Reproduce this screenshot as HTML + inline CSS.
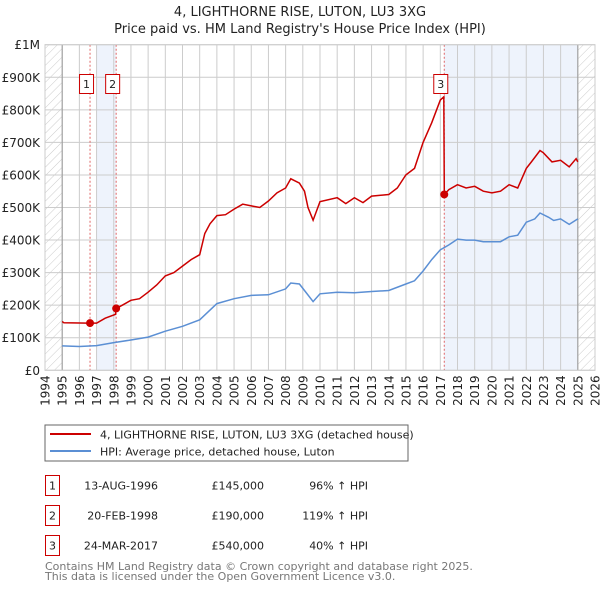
<!DOCTYPE html>
<html><head><meta charset="utf-8"><style>
body{margin:0;background:#fff;font-family:"DejaVu Sans","Liberation Sans",sans-serif;}
svg text{font-family:"DejaVu Sans","Liberation Sans",sans-serif;}
</style></head><body>
<svg id="c" width="600" height="590" xmlns="http://www.w3.org/2000/svg">
<defs><pattern id="hatch" width="6" height="6" patternUnits="userSpaceOnUse" patternTransform="rotate(45)"><line x1="0" y1="0" x2="0" y2="6" stroke="#ccc" stroke-width="1"/></pattern></defs>
<text x="300" y="16" text-anchor="middle" font-size="13" fill="#222">4, LIGHTHORNE RISE, LUTON, LU3 3XG</text>
<text x="300" y="33" text-anchor="middle" font-size="13" fill="#222">Price paid vs. HM Land Registry's House Price Index (HPI)</text>
<g id="plot"></g>
<g>
<rect x="45" y="425" width="363" height="36" fill="#fff" stroke="#666"/>
<line x1="50" y1="434" x2="91" y2="434" stroke="#cc0000" stroke-width="2"/>
<text x="100" y="438.5" font-size="11" fill="#222">4, LIGHTHORNE RISE, LUTON, LU3 3XG (detached house)</text>
<line x1="50" y1="451" x2="91" y2="451" stroke="#5b8fd4" stroke-width="2"/>
<text x="100" y="455.5" font-size="11" fill="#222">HPI: Average price, detached house, Luton</text>
</g>
<g id="tbl" font-size="11" fill="#222"></g>
<text x="45" y="570" font-size="11" fill="#777">Contains HM Land Registry data © Crown copyright and database right 2025.</text>
<text x="45" y="580" font-size="11" fill="#777">This data is licensed under the Open Government Licence v3.0.</text>
</svg>
<script>
const yearTicks=[1994,1995,1996,1997,1998,1999,2000,2001,2002,2003,2004,2005,2006,2007,2008,2009,2010,2011,2012,2013,2014,2015,2016,2017,2018,2019,2020,2021,2022,2023,2024,2025,2026];
const valueTicks=[0,100,200,300,400,500,600,700,800,900,1000];
const valueLabels=["£0","£100K","£200K","£300K","£400K","£500K","£600K","£700K","£800K","£900K","£1M"];
const redDates=[1995.0,1995.1,1996.5,1996.62,1997.0,1997.5,1998.1,1998.14,1998.5,1999,1999.5,2000,2000.5,2001,2001.5,2002,2002.5,2003,2003.3,2003.6,2004,2004.5,2005,2005.5,2006,2006.5,2007,2007.5,2008,2008.3,2008.8,2009.1,2009.3,2009.6,2010,2011,2011.5,2012,2012.5,2013,2014,2014.5,2015,2015.5,2016,2016.5,2017.0,2017.2,2017.23,2017.5,2018,2018.5,2019,2019.5,2020,2020.5,2021,2021.5,2022,2022.3,2022.8,2023,2023.5,2024,2024.5,2024.9,2025];
const redValues=[150,146,145,145,145,160,172,190,200,215,220,240,262,290,300,320,340,355,420,450,475,478,495,510,505,500,520,545,560,588,575,550,500,461,518,530,512,530,515,535,540,560,600,620,700,760,830,840,540,555,570,560,565,550,545,550,570,560,620,640,675,668,640,645,625,650,640];
const hpiDates=[1995,1996,1997,1998,1999,2000,2001,2002,2003,2003.5,2004,2005,2006,2007,2008,2008.3,2008.8,2009.1,2009.6,2010,2011,2012,2013,2014,2015,2015.5,2016,2016.5,2017,2017.5,2018,2018.5,2019,2019.5,2020,2020.5,2021,2021.5,2022,2022.5,2022.8,2023.3,2023.6,2024,2024.5,2025];
const hpiValues=[75,73,76,85,93,102,120,135,155,180,205,220,230,232,250,268,265,245,211,235,240,238,242,245,265,275,305,340,370,385,403,400,400,395,395,395,410,415,455,465,483,470,460,465,448,465];
const saleDates=[1996.62,1998.14,2017.23];
const saleValues=[145,190,540];
const saleLabels=["1","2","3"];
const saleDateText=["13-AUG-1996","20-FEB-1998","24-MAR-2017"];
const salePriceText=["£145,000","£190,000","£540,000"];
const saleHpiText=["96% ↑ HPI","119% ↑ HPI","40% ↑ HPI"];

const X0=45,X1=595,Y0=370.3,Y1=44.7;
const x=d=>X0+(d-1994)/(2026-1994)*(X1-X0);
const y=v=>Y0-v/1000*(Y0-Y1);
const NS="http://www.w3.org/2000/svg";
function mk(tag,attrs,parent){const e=document.createElementNS(NS,tag);for(const k in attrs)e.setAttribute(k,attrs[k]);parent.appendChild(e);return e;}
const g=document.getElementById('plot');
let r;
r=mk('rect',{x:x(1994),y:Y1,width:x(1995)-x(1994),height:Y0-Y1,fill:'url(#hatch)'},g);


r=mk('rect',{x:x(2025),y:Y1,width:x(2026)-x(2025),height:Y0-Y1,fill:'url(#hatch)'},g);


r=mk('rect',{x:x(1997),y:Y1,width:x(saleDates[1])-x(1997),height:Y0-Y1,fill:'#eef3fc'},g);


r=mk('rect',{x:x(saleDates[2]),y:Y1,width:x(2025)-x(saleDates[2]),height:Y0-Y1,fill:'#eef3fc'},g);


yearTicks.forEach(t=>{
 const l=mk('line',{x1:x(t),x2:x(t),y1:Y1,y2:Y0,stroke:'#ccc'},g);
 
 
 const tx=mk('text',{x:0,y:0,'font-size':12,fill:'#222','text-anchor':'end',transform:`translate(${x(t)+4.5},${Y0+5}) rotate(-90)`},g);
 tx.textContent=t;
 
 
});
valueTicks.forEach((v,i)=>{
 const l=mk('line',{x1:X0,x2:X1,y1:y(v),y2:y(v),stroke:'#ccc'},g);
 
 
 const tx=mk('text',{x:40,y:y(v)+4.5,'font-size':12,fill:'#222','text-anchor':'end'},g);
 tx.textContent=valueLabels[i];
 
 
});
[1995,2025].forEach(t=>{const l=mk('line',{x1:x(t),x2:x(t),y1:Y1,y2:Y0,stroke:'#999'},g);
 
 });
saleDates.forEach(d=>{const l=mk('line',{x1:x(d),x2:x(d),y1:Y1,y2:Y0,stroke:'#e06666','stroke-dasharray':'2,2'},g);
 
 });
const path=(ds,vs)=>ds.map((d,i)=>(i?'L':'M')+x(d).toFixed(1)+','+y(vs[i]).toFixed(1)).join('');
const hp=mk('path',{d:path(hpiDates,hpiValues),fill:'none',stroke:'#5b8fd4','stroke-width':1.5},g);


const rp=mk('path',{d:path(redDates,redValues),fill:'none',stroke:'#cc0000','stroke-width':1.5},g);


saleDates.forEach((d,i)=>{
 const c=mk('circle',{cx:x(d),cy:y(saleValues[i]),r:4,fill:'#cc0000'},g);
 
 
 const b=mk('rect',{x:x(d)-10.5,y:74.5,width:14,height:19,fill:'#fff',stroke:'#cc0000'},g);
 
 
 const t=mk('text',{x:x(d)-3.5,y:88,'font-size':11,fill:'#222','text-anchor':'middle'},g);
 t.textContent=saleLabels[i];
 
 
});
const pb=mk('rect',{x:X0,y:Y1,width:X1-X0,height:Y0-Y1,fill:'none',stroke:'#ccc'},g);


const tb=document.getElementById('tbl');
saleLabels.forEach((s,i)=>{
 const yy=475+i*30;
 const b=mk('rect',{x:45.5,y:yy+0.5,width:14,height:20,fill:'none',stroke:'#cc0000'},tb);
 
 
 const cells=[[52.5,s,'middle'],[158,saleDateText[i],'end'],[264,salePriceText[i],'end'],[368,saleHpiText[i],'end']];
 cells.forEach((c,j)=>{const t=mk('text',{x:c[0],y:yy+14.5,'text-anchor':c[2]},tb);t.textContent=c[1];
  
  });
});
</script>
</body></html>
